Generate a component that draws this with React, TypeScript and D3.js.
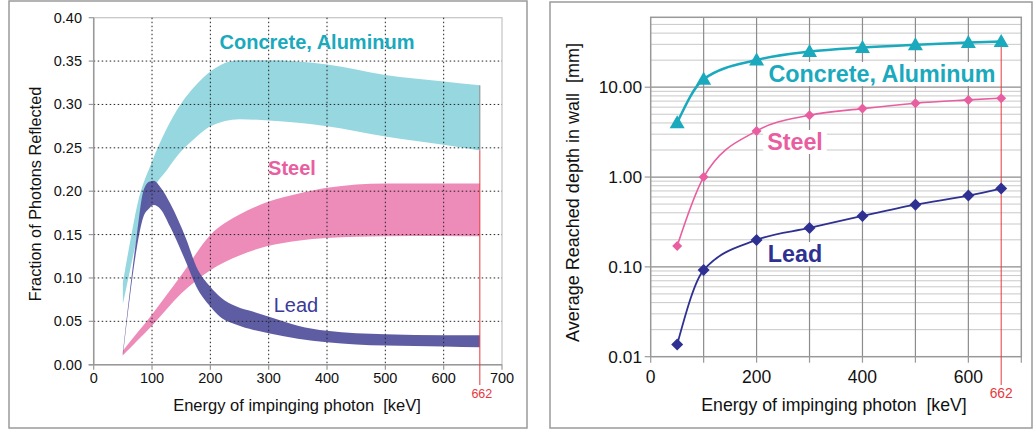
import { useEffect, useRef } from "react";
import * as d3 from "d3";

// left chart: fraction of photons reflected (bands: low / high edge)
const concreteE = [50, 62, 75, 100, 125, 150, 175, 200, 250, 300, 400, 500, 600, 662];
const concreteHi = [0.095, 0.14, 0.185, 0.234, 0.272, 0.301, 0.322, 0.338, 0.351, 0.351, 0.346, 0.334, 0.3265, 0.322];
const concreteLo = [0.07, 0.108, 0.148, 0.2, 0.224, 0.246, 0.262, 0.275, 0.283, 0.2815, 0.275, 0.263, 0.2535, 0.247];

const steelE = [50, 75, 100, 150, 200, 250, 300, 350, 400, 500, 600, 662];
const steelHi = [0.016, 0.037, 0.058, 0.103, 0.1495, 0.173, 0.188, 0.197, 0.204, 0.209, 0.209, 0.209];
const steelLo = [0.011, 0.028, 0.045, 0.082, 0.109, 0.126, 0.137, 0.143, 0.146, 0.148, 0.1485, 0.148];

const leadE = [50, 62, 74, 85, 95, 103, 115, 131, 159, 176, 200, 217, 245, 274, 302, 350, 400, 500, 600, 662];
const leadHi = [0.014, 0.085, 0.15, 0.2, 0.211, 0.212, 0.204, 0.186, 0.144, 0.113, 0.09, 0.078, 0.067, 0.061, 0.055, 0.045, 0.039, 0.035, 0.034, 0.034];
const leadLo = [0.01, 0.078, 0.135, 0.17, 0.18, 0.184, 0.179, 0.159, 0.117, 0.09, 0.067, 0.055, 0.046, 0.04, 0.036, 0.03, 0.026, 0.022, 0.021, 0.02];

const leftYTicks = [0, 0.05, 0.1, 0.15, 0.2, 0.25, 0.3, 0.35, 0.4];
const xTicks = [0, 100, 200, 300, 400, 500, 600, 700];

// right chart: average reached depth [mm]
const depthE = [50, 100, 200, 300, 400, 500, 600, 662];
const depthConcrete = [4.03, 12.3, 20.1, 24.9, 27.6, 29.6, 31.4, 32.2];
const depthSteel = [0.171, 1.0, 3.26, 4.87, 5.78, 6.64, 7.22, 7.55];
const depthLead = [0.0137, 0.0922, 0.1995, 0.271, 0.369, 0.493, 0.621, 0.743];
const rightYTicks = [0.01, 0.1, 1, 10];
const rightXLabels = [0, 200, 400, 600];

const FONT = "'Liberation Sans', Arial, sans-serif";
const CYAN_BAND = "#96d7e0";
const PINK_BAND = "#ee8cb9";
const LEAD_BAND = "#55549f";
const CYAN = "#1aa9bd";
const PINK = "#e85ea0";
const NAVY = "#2e3191";
const RED = "#e8383d";

type Pt = { e: number; hi: number; lo: number };
const zipBand = (e: number[], hi: number[], lo: number[]): Pt[] =>
  e.map((v, i) => ({ e: v, hi: hi[i], lo: lo[i] }));

export default function App() {
  const svgRef = useRef<SVGSVGElement | null>(null);

  useEffect(() => {
    if (!svgRef.current) return;
    const svg = d3.select(svgRef.current);
    svg.selectAll("*").remove();

    // panel frames
    svg.append("rect").attr("x", 9).attr("y", 1).attr("width", 518).attr("height", 427)
      .attr("fill", "none").attr("stroke", "#9a9a9a").attr("stroke-width", 1.5);
    svg.append("rect").attr("x", 550).attr("y", 2).attr("width", 482).attr("height", 426)
      .attr("fill", "none").attr("stroke", "#9a9a9a").attr("stroke-width", 1.5);

    // ---------- LEFT ----------
    const x = d3.scaleLinear().domain([0, 700]).range([93.7, 502]);
    const y = d3.scaleLinear().domain([0, 0.4]).range([364.7, 17.7]);
    const L = svg.append("g");

    const area = d3.area<Pt>()
      .x((d) => x(d.e))
      .y0((d) => y(d.lo))
      .y1((d) => y(d.hi))
      .curve(d3.curveMonotoneX);

    L.append("path").attr("d", area(zipBand(concreteE, concreteHi, concreteLo))!).attr("fill", CYAN_BAND);
    L.append("path").attr("d", area(zipBand(steelE, steelHi, steelLo))!).attr("fill", PINK_BAND);
    L.append("path").attr("d", area(zipBand(leadE, leadHi, leadLo))!).attr("fill", LEAD_BAND).attr("opacity", 0.95);

    // frame
    L.append("rect").attr("x", x(0)).attr("y", y(0.4)).attr("width", x(700) - x(0)).attr("height", y(0) - y(0.4))
      .attr("fill", "none").attr("stroke", "#c4c4c4").attr("stroke-width", 1.2);

    // dotted grid
    L.selectAll(".gx").data(xTicks.filter((t) => t > 0 && t < 700)).enter().append("line")
      .attr("x1", (d) => x(d)).attr("x2", (d) => x(d)).attr("y1", y(0.4)).attr("y2", y(0))
      .attr("stroke", "#222").attr("stroke-width", 1).attr("stroke-dasharray", "1.5,2.5");
    L.selectAll(".gy").data(leftYTicks.filter((t) => t > 0 && t < 0.4)).enter().append("line")
      .attr("x1", x(0)).attr("x2", x(700)).attr("y1", (d) => y(d)).attr("y2", (d) => y(d))
      .attr("stroke", "#222").attr("stroke-width", 1).attr("stroke-dasharray", "1.5,2.5");

    // axes
    L.append("line").attr("x1", x(0)).attr("x2", x(0)).attr("y1", y(0.4)).attr("y2", y(0))
      .attr("stroke", "#999").attr("stroke-width", 1.5);
    L.append("line").attr("x1", x(0) - 5).attr("x2", x(700)).attr("y1", y(0)).attr("y2", y(0))
      .attr("stroke", "#999").attr("stroke-width", 1.5);
    L.selectAll(".tx").data(xTicks).enter().append("line")
      .attr("x1", (d) => x(d)).attr("x2", (d) => x(d)).attr("y1", y(0)).attr("y2", y(0) + 5)
      .attr("stroke", "#999").attr("stroke-width", 1.2);
    L.selectAll(".ty").data(leftYTicks).enter().append("line")
      .attr("x1", x(0) - 5).attr("x2", x(0)).attr("y1", (d) => y(d)).attr("y2", (d) => y(d))
      .attr("stroke", "#999").attr("stroke-width", 1.2);

    L.selectAll(".lx").data(xTicks).enter().append("text")
      .attr("x", (d) => x(d)).attr("y", 383).attr("text-anchor", "middle")
      .attr("font-family", FONT).attr("font-size", 14.5).attr("fill", "#111")
      .text((d) => d);
    L.selectAll(".ly").data(leftYTicks).enter().append("text")
      .attr("x", 82).attr("y", (d) => y(d) + 5).attr("text-anchor", "end")
      .attr("font-family", FONT).attr("font-size", 14.5).attr("fill", "#111")
      .text((d) => d.toFixed(2));

    L.append("text").attr("transform", `translate(41,194) rotate(-90)`).attr("text-anchor", "middle")
      .attr("font-family", FONT).attr("font-size", 16.3).attr("fill", "#111")
      .text("Fraction of Photons Reflected");
    L.append("text").attr("x", 297).attr("y", 411).attr("text-anchor", "middle")
      .attr("font-family", FONT).attr("font-size", 16.5).attr("fill", "#111")
      .attr("xml:space", "preserve").text("Energy of impinging photon  [keV]");

    // 662 marker
    const e662 = concreteE[concreteE.length - 1];
    L.append("line").attr("x1", x(e662)).attr("x2", x(e662))
      .attr("y1", y(concreteLo[concreteLo.length - 1])).attr("y2", 385)
      .attr("stroke", RED).attr("stroke-width", 1);
    L.append("line").attr("x1", x(e662)).attr("x2", x(e662))
      .attr("y1", y(concreteHi[concreteHi.length - 1])).attr("y2", y(concreteLo[concreteLo.length - 1]))
      .attr("stroke", "#8a8a8a").attr("stroke-width", 1);
    L.append("text").attr("x", x(e662) + 2).attr("y", 398).attr("text-anchor", "middle")
      .attr("font-family", FONT).attr("font-size", 12.5).attr("fill", RED).text("662");

    L.append("text").attr("x", 317).attr("y", 49).attr("text-anchor", "middle")
      .attr("font-family", FONT).attr("font-size", 20).attr("font-weight", "bold").attr("fill", CYAN)
      .text("Concrete, Aluminum");
    L.append("text").attr("x", 292).attr("y", 175).attr("text-anchor", "middle")
      .attr("font-family", FONT).attr("font-size", 20).attr("font-weight", "bold").attr("fill", PINK)
      .text("Steel");
    L.append("text").attr("x", 296).attr("y", 312).attr("text-anchor", "middle")
      .attr("font-family", FONT).attr("font-size", 20).attr("fill", "#3b3a98")
      .text("Lead");

    // ---------- RIGHT ----------
    const rx = d3.scaleLinear().domain([0, 700]).range([650.7, 1021.3]);
    const ry = d3.scaleLog().domain([0.01, 60]).range([356.7, 17.3]);
    const R = svg.append("g");

    const minor: number[] = [];
    [0.01, 0.1, 1, 10].forEach((dec) => {
      for (let k = 2; k <= 9; k++) {
        const v = dec * k;
        if (v < 60) minor.push(v);
      }
    });
    R.selectAll(".mn").data(minor).enter().append("line")
      .attr("x1", rx(0)).attr("x2", rx(700)).attr("y1", (d) => ry(d)).attr("y2", (d) => ry(d))
      .attr("stroke", "#c8c8c8").attr("stroke-width", 1);
    R.selectAll(".mj").data(rightYTicks.slice(1)).enter().append("line")
      .attr("x1", rx(0)).attr("x2", rx(700)).attr("y1", (d) => ry(d)).attr("y2", (d) => ry(d))
      .attr("stroke", "#8c8c8c").attr("stroke-width", 1.2);
    R.selectAll(".vg").data(xTicks.filter((t) => t > 0 && t < 700)).enter().append("line")
      .attr("x1", (d) => rx(d)).attr("x2", (d) => rx(d)).attr("y1", ry(60)).attr("y2", ry(0.01))
      .attr("stroke", "#8c8c8c").attr("stroke-width", 1.2);
    R.append("rect").attr("x", rx(0)).attr("y", ry(60)).attr("width", rx(700) - rx(0)).attr("height", ry(0.01) - ry(60))
      .attr("fill", "none").attr("stroke", "#999").attr("stroke-width", 1.5);

    R.selectAll(".tx").data(xTicks).enter().append("line")
      .attr("x1", (d) => rx(d)).attr("x2", (d) => rx(d)).attr("y1", ry(0.01)).attr("y2", ry(0.01) + 6)
      .attr("stroke", "#999").attr("stroke-width", 1.2);
    R.selectAll(".ty").data(rightYTicks).enter().append("line")
      .attr("x1", rx(0) - 6).attr("x2", rx(0)).attr("y1", (d) => ry(d)).attr("y2", (d) => ry(d))
      .attr("stroke", "#999").attr("stroke-width", 1.2);

    R.selectAll(".lx").data(rightXLabels).enter().append("text")
      .attr("x", (d) => rx(d)).attr("y", 383).attr("text-anchor", "middle")
      .attr("font-family", FONT).attr("font-size", 17.5).attr("fill", "#111")
      .text((d) => d);
    R.selectAll(".ly").data(rightYTicks).enter().append("text")
      .attr("x", 642).attr("y", (d) => ry(d) + 6).attr("text-anchor", "end")
      .attr("font-family", FONT).attr("font-size", 17.3).attr("fill", "#111")
      .text((d) => d.toFixed(2));

    R.append("text").attr("transform", `translate(579,192.5) rotate(-90)`).attr("text-anchor", "middle")
      .attr("font-family", FONT).attr("font-size", 18).attr("fill", "#111")
      .attr("xml:space", "preserve").text("Average Reached depth in wall  [mm]");
    R.append("text").attr("x", 834).attr("y", 411).attr("text-anchor", "middle")
      .attr("font-family", FONT).attr("font-size", 17.7).attr("fill", "#111")
      .attr("xml:space", "preserve").text("Energy of impinging photon  [keV]");

    // 662 marker
    R.append("line").attr("x1", rx(662)).attr("x2", rx(662))
      .attr("y1", ry(depthConcrete[depthConcrete.length - 1])).attr("y2", 385)
      .attr("stroke", RED).attr("stroke-width", 1);
    R.append("text").attr("x", rx(662)).attr("y", 398).attr("text-anchor", "middle")
      .attr("font-family", FONT).attr("font-size", 13.8).attr("fill", RED).text("662");

    // labels with white backing
    const label = (tx: number, ty: number, txt: string, color: string) => {
      const t = R.append("text").attr("x", tx).attr("y", ty).attr("text-anchor", "middle")
        .attr("font-family", FONT).attr("font-size", 23.3).attr("font-weight", "bold").attr("fill", color)
        .text(txt);
      const bb = (t.node() as SVGTextElement).getBBox();
      R.insert("rect", () => t.node())
        .attr("x", bb.x - 4).attr("y", bb.y + 1).attr("width", bb.width + 8).attr("height", bb.height - 2)
        .attr("fill", "#fff");
    };
    label(882, 82, "Concrete, Aluminum", CYAN);
    label(795, 150, "Steel", PINK);
    label(795, 262, "Lead", NAVY);

    const line = d3.line<[number, number]>()
      .x((d) => rx(d[0]))
      .y((d) => ry(d[1]))
      .curve(d3.curveMonotoneX);

    const series = [
      { vals: depthConcrete, color: CYAN, w: 2.5, shape: "tri", size: 13 },
      { vals: depthSteel, color: PINK, w: 1.6, shape: "dia", size: 10 },
      { vals: depthLead, color: NAVY, w: 1.8, shape: "dia", size: 12 },
    ];
    series.forEach((s) => {
      const pts = depthE.map((e, i) => [e, s.vals[i]] as [number, number]);
      R.append("path").attr("d", line(pts)!).attr("fill", "none")
        .attr("stroke", s.color).attr("stroke-width", s.w);
      R.selectAll(null).data(pts).enter().append("path")
        .attr("transform", (d) => `translate(${rx(d[0])},${ry(d[1])})`)
        .attr("d", () => {
          const h = s.size / 2;
          if (s.shape === "tri") return `M0,${-h - 1}L${h + 1},${h - 1}L${-h - 1},${h - 1}Z`;
          return `M0,${-h}L${h},0L0,${h}L${-h},0Z`;
        })
        .attr("fill", s.color);
    });
  }, []);

  return (
    <div style={{ position: "absolute", left: 0, top: 0, background: "#fff" }}>
      <svg ref={svgRef} width={1034} height={429} style={{ display: "block" }} />
    </div>
  );
}
